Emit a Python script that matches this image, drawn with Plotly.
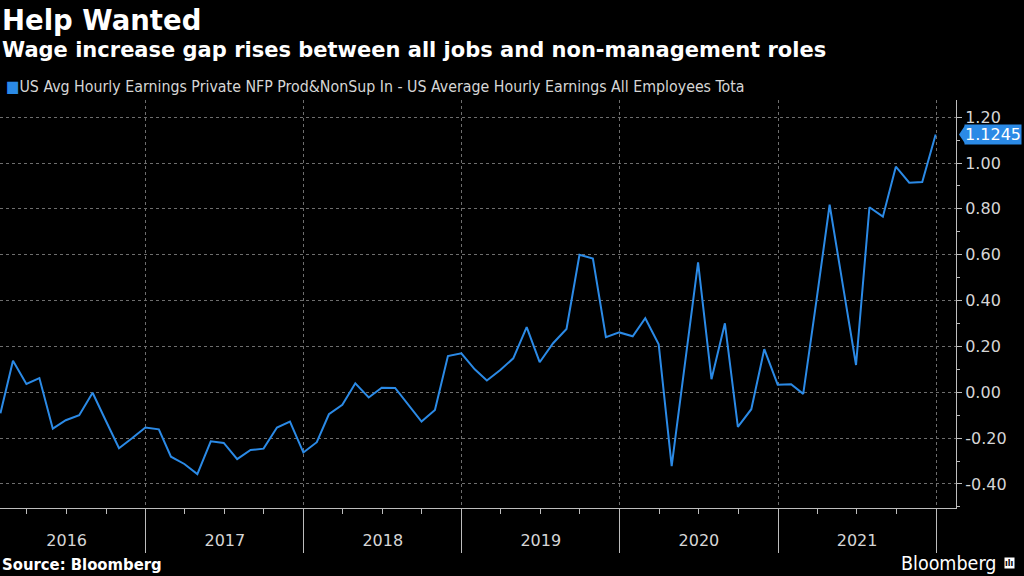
import plotly.graph_objects as go
import pandas as pd

# Month-end dates Jan 2016 .. Dec 2021
dates = pd.date_range("2016-01-31", "2021-12-31", freq="ME").strftime("%Y-%m-%d").tolist()

gap_values = [
    -0.092, 0.137, 0.036, 0.062, -0.159, -0.122, -0.100, -0.002, -0.122, -0.244, -0.201, -0.154,
    -0.162, -0.281, -0.313, -0.357, -0.214, -0.221, -0.292, -0.252, -0.246, -0.154, -0.128, -0.263,
    -0.218, -0.096, -0.055, 0.039, -0.023, 0.020, 0.019, -0.058, -0.128, -0.077, 0.158, 0.170,
    0.100, 0.051, 0.097, 0.148, 0.284, 0.131, 0.214, 0.276, 0.600, 0.583, 0.240, 0.261,
    0.244, 0.323, 0.209, -0.322, 0.128, 0.567, 0.057, 0.301, -0.151, -0.074, 0.188, 0.033,
    0.035, -0.007, 0.406, 0.818, 0.462, 0.119, 0.807, 0.766, 0.984, 0.914, 0.917, 1.1245,
]

y_tickvals = [-0.4, -0.2, 0.0, 0.2, 0.4, 0.6, 0.8, 1.0, 1.2]
y_ticktext = ["-0.40", "-0.20", "0.00", "0.20", "0.40", "0.60", "0.80", "1.00", "1.20"]

series_name = "US Avg Hourly Earnings Private NFP Prod&NonSup In - US Average Hourly Earnings All Employees Tota"
title = "Help Wanted"
subtitle = "Wage increase gap rises between all jobs and non-management roles"
source = "Source: Bloomberg"
last_label = "1.1245"

BLUE = "#2b8ae6"
GRID = "#6e6e6e"
AXIS = "#bdbdbd"
TXT = "#d6d6d6"
WIDE = "DejaVu Sans, sans-serif"
COND = "DejaVu Sans Condensed, DejaVu Sans, sans-serif"

fig = go.Figure()
fig.add_trace(go.Scatter(
    x=dates, y=gap_values, mode="lines",
    line=dict(color=BLUE, width=2), showlegend=False, hoverinfo="x+y",
))

fig.update_layout(
    width=1024, height=576,
    paper_bgcolor="black", plot_bgcolor="black",
    margin=dict(l=0, r=68, t=100, b=68),
    font=dict(family=WIDE, color=TXT, size=16),
    showlegend=False,
)

fig.update_xaxes(
    type="date",
    range=["2016-01-30", "2022-02-16"],
    tick0="2016-01-01", dtick="M12",
    ticklabelmode="period",
    tickformat="%Y",
    ticks="outside", ticklen=44, tickcolor=AXIS, tickwidth=1,
    ticklabelstandoff=-26,
    showgrid=True, gridcolor=GRID, griddash="dot", gridwidth=1,
    showline=True, linecolor=AXIS, linewidth=1,
    minor=dict(dtick="M3", ticks="outside", ticklen=5, tickcolor=AXIS, showgrid=False),
    tickfont=dict(size=16, color=TXT, family=WIDE),
    zeroline=False,
)

fig.update_yaxes(
    side="right",
    range=[-0.505, 1.275],
    tickvals=y_tickvals, ticktext=y_ticktext,
    ticks="outside", ticklen=5, tickcolor=AXIS,
    showgrid=True, gridcolor=GRID, griddash="dot", gridwidth=1,
    showline=True, linecolor=AXIS, linewidth=1,
    minor=dict(dtick=0.1, tick0=0, ticks="outside", ticklen=3, tickcolor=AXIS, showgrid=False),
    tickfont=dict(size=16, color=TXT, family=WIDE),
    zeroline=False,
)

H = 408.0
def py(px):
    return (508 - px) / H

fig.add_annotation(text=f"<b>{title}</b>", xref="paper", yref="paper", x=0.0, y=py(20),
                   xanchor="left", yanchor="middle", showarrow=False,
                   font=dict(size=27.5, color="white", family=WIDE), xshift=0)
fig.add_annotation(text=f"<b>{subtitle}</b>", xref="paper", yref="paper", x=0.0, y=py(50),
                   xanchor="left", yanchor="middle", showarrow=False,
                   font=dict(size=21, color="white", family=WIDE), xshift=0)
fig.add_annotation(text=f"<span style='color:{BLUE}'>■</span>{series_name}", xref="paper", yref="paper",
                   x=0.0, y=py(87), xanchor="left", yanchor="middle", showarrow=False,
                   font=dict(size=15.8, color=TXT, family=COND), xshift=4)
fig.add_annotation(text=f"<b>{source}</b>", xref="paper", yref="paper", x=0.0, y=py(564),
                   xanchor="left", yanchor="middle", showarrow=False,
                   font=dict(size=16.5, color="white", family=COND), xshift=0)
fig.add_annotation(text="Bloomberg", xref="paper", yref="paper", x=1.0, y=py(563),
                   xanchor="right", yanchor="middle", showarrow=False,
                   font=dict(size=19.5, color="white", family=COND), xshift=42)
fig.add_annotation(text="<b>ılı</b>", xref="paper", yref="paper", x=1.0, y=py(563),
                   xanchor="left", yanchor="middle", showarrow=False, bgcolor="white",
                   borderpad=0, font=dict(size=9, color="black", family=COND), xshift=48)

# last value badge
fig.add_annotation(text=last_label, xref="paper", yref="y", x=1.0, y=gap_values[-1],
                   xanchor="left", yanchor="middle", showarrow=False,
                   bgcolor=BLUE, borderpad=0,
                   font=dict(size=16, color="white", family=WIDE), xshift=8)
fig.add_shape(type="path", xref="paper", yref="y", xsizemode="pixel", ysizemode="pixel",
              xanchor=1.0, yanchor=gap_values[-1],
              path="M 3 0 L 9 9 L 9 -9 Z", fillcolor=BLUE, line=dict(width=0))

fig.write_html("out.html", config={"displayModeBar": False},
               post_script="document.body.style.margin='0';document.body.style.padding='0';document.body.style.overflow='hidden';")
